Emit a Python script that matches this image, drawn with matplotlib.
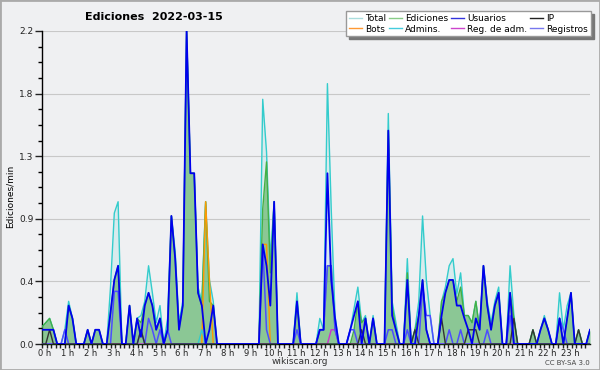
import matplotlib
matplotlib.use('Agg')
import matplotlib.pyplot as plt
import matplotlib.transforms as mtransforms
from matplotlib.lines import Line2D
from matplotlib.patches import Rectangle
import numpy as np

# 10-minute steps from 00:00 to 24:00 (145 points), values in edits/min
hours = np.arange(145) / 6.0

total = [0.12, 0.15, 0.18, 0.1, 0, 0,    0.1, 0.3, 0.18, 0, 0, 0,
         0.1, 0, 0.1, 0.1, 0, 0,         0.4, 0.92, 1.0, 0, 0, 0.27,
         0, 0.18, 0.2, 0.3, 0.55, 0.36,  0.15, 0.27, 0, 0.18, 0.9, 0.65,
         0.15, 0.3, 2.2, 1.2, 1.2, 0.4,  0.3, 1.0, 0.45, 0.3, 0, 0,
         0, 0, 0, 0, 0, 0,               0, 0, 0, 0, 1.72, 1.35,
         0.6, 1.0, 0, 0, 0, 0,           0, 0.36, 0, 0, 0, 0,
         0, 0.18, 0.1, 1.83, 0.95, 0.2,  0, 0, 0, 0.1, 0.25, 0.4,
         0.15, 0.2, 0, 0.2, 0, 0,        0, 1.62, 0.3, 0.15, 0, 0,
         0.6, 0, 0.1, 0.3, 0.9, 0.45,    0.2, 0, 0, 0.3, 0.4, 0.55,
         0.6, 0.35, 0.5, 0.2, 0.2, 0.15, 0.3, 0.1, 0.55, 0.3, 0.15, 0.3,
         0.4, 0, 0, 0.55, 0.2, 0,        0, 0, 0, 0.1, 0, 0.1,
         0.2, 0.1, 0, 0, 0.36, 0.1,      0.27, 0.36, 0, 0.1, 0, 0,
         0.1]

ediciones = [0.12, 0.15, 0.18, 0.1, 0, 0,    0, 0.27, 0.18, 0, 0, 0,
             0.1, 0, 0.1, 0.1, 0, 0,         0.22, 0.45, 0.55, 0, 0, 0.27,
             0, 0.18, 0.15, 0.27, 0.36, 0.27, 0.1, 0.18, 0, 0.1, 0.9, 0.6,
             0.1, 0.27, 2.2, 1.2, 1.2, 0.36, 0.27, 1.0, 0.3, 0.27, 0, 0,
             0, 0, 0, 0, 0, 0,               0, 0, 0, 0, 0.95, 1.28,
             0.5, 1.0, 0, 0, 0, 0,           0, 0.3, 0, 0, 0, 0,
             0, 0.1, 0.1, 0.55, 0.55, 0.1,   0, 0, 0, 0, 0.1, 0.3,
             0.15, 0.18, 0, 0.18, 0, 0,      0, 1.5, 0.27, 0.1, 0, 0,
             0.5, 0, 0.1, 0.2, 0.45, 0.1,    0, 0, 0, 0.3, 0.36, 0.45,
             0.45, 0.3, 0.4, 0.2, 0.2, 0.15, 0.3, 0.1, 0.55, 0.27, 0.1, 0.27,
             0.36, 0, 0, 0.36, 0.18, 0,      0, 0, 0, 0.1, 0, 0.1,
             0.18, 0.1, 0, 0, 0.18, 0,       0.18, 0.36, 0, 0.1, 0, 0,
             0.1]

usuarios = [0.1, 0.1, 0.1, 0.1, 0, 0,      0, 0.27, 0.18, 0, 0, 0,
            0.1, 0, 0.1, 0.1, 0, 0,        0.22, 0.45, 0.55, 0, 0, 0.27,
            0, 0.18, 0.05, 0.27, 0.36, 0.27, 0.1, 0.18, 0, 0.1, 0.9, 0.6,
            0.1, 0.27, 2.2, 1.2, 1.2, 0.36, 0.27, 0, 0.1, 0.27, 0, 0,
            0, 0, 0, 0, 0, 0,              0, 0, 0, 0, 0.7, 0.55,
            0.27, 1.0, 0, 0, 0, 0,         0, 0.3, 0, 0, 0, 0,
            0, 0.1, 0.1, 1.2, 0.45, 0.18,  0, 0, 0, 0.1, 0.2, 0.3,
            0, 0.18, 0, 0.18, 0, 0,        0, 1.5, 0.2, 0.1, 0, 0,
            0.45, 0, 0, 0.2, 0.45, 0.1,    0, 0, 0, 0.2, 0.36, 0.45,
            0.45, 0.27, 0.27, 0.18, 0.1, 0, 0.18, 0.1, 0.55, 0.27, 0.1, 0.27,
            0.36, 0, 0, 0.36, 0, 0,        0, 0, 0, 0, 0, 0.1,
            0.18, 0.1, 0, 0, 0.18, 0,      0.18, 0.36, 0, 0, 0, 0,
            0.1]

ip = [0, 0, 0.1, 0, 0, 0,      0, 0, 0, 0, 0, 0,
      0, 0, 0, 0, 0, 0,        0, 0, 0, 0, 0, 0,
      0, 0, 0.1, 0, 0, 0,      0, 0, 0, 0, 0, 0,
      0, 0, 0, 0, 0, 0,        0, 0, 0, 0, 0, 0,
      0, 0, 0, 0, 0, 0,        0, 0, 0, 0, 0, 0,
      0, 0, 0, 0, 0, 0,        0, 0, 0, 0, 0, 0,
      0, 0, 0, 0, 0, 0,        0, 0, 0, 0, 0, 0,
      0.1, 0, 0, 0, 0, 0,      0, 0, 0, 0, 0, 0,
      0, 0, 0.1, 0, 0, 0,      0, 0, 0, 0.18, 0, 0,
      0, 0, 0, 0, 0.1, 0.1,    0.1, 0, 0, 0, 0, 0,
      0, 0, 0, 0, 0.18, 0,     0, 0, 0, 0.1, 0, 0,
      0, 0, 0, 0, 0, 0,        0, 0, 0, 0.1, 0, 0,
      0]

bots = [0] * 42 + [0, 1.0, 0.45, 0] + [0] * 12 + [0.7, 0.7, 0] + [0] * 84

admins = [0] * 41 + [0, 0.1, 0] + [0] * 101

reg_adm = [0] * 75 + [0, 0.1, 0.1, 0] + [0] * 66

registros = [0, 0, 0, 0, 0, 0,        0.1, 0, 0, 0, 0, 0,
             0, 0, 0, 0, 0, 0,        0, 0.37, 0.37, 0, 0, 0,
             0, 0, 0.1, 0, 0.18, 0.1, 0, 0.1, 0, 0.1, 0, 0,
             0, 0, 0, 0, 0, 0,        0, 0, 0, 0, 0, 0,
             0, 0, 0, 0, 0, 0,        0, 0, 0, 0, 0.7, 0.1,
             0, 0, 0, 0, 0, 0,        0, 0.1, 0, 0, 0, 0,
             0, 0.1, 0.1, 0.55, 0.55, 0.1, 0, 0, 0, 0.1, 0.1, 0,
             0, 0, 0, 0, 0, 0,        0, 0.1, 0.1, 0, 0, 0,
             0.1, 0, 0, 0, 0.4, 0.2,  0.2, 0, 0, 0, 0, 0.1,
             0, 0, 0.1, 0, 0, 0,      0, 0, 0, 0.1, 0, 0,
             0, 0, 0, 0.2, 0, 0,      0, 0, 0, 0, 0, 0,
             0, 0, 0, 0, 0.18, 0.1,   0, 0, 0, 0, 0, 0,
             0]

hour_labels = ['%d h' % h for h in range(24)]

bg = '#eff0f2'
fig = plt.figure(figsize=(6, 3.7), dpi=100, facecolor=bg)
ax = fig.add_axes([42/600, 26/370, 548/600, 313/370])
ax.set_facecolor(bg)
ax.set_xlim(0, 24)
ax.set_ylim(0, 2.2)

# areas
ax.fill_between(hours, total, color='#33cccc', alpha=0.12, lw=0, zorder=2)
ax.fill_between(hours, ediciones, color='#4daa4d', alpha=0.55, lw=0, zorder=3)

# lines
ax.plot(hours, total, color='#33cccc', lw=1, zorder=4)
ax.plot(hours, ediciones, color='#44b044', lw=1, zorder=5)
ax.plot(hours, bots, color='#ff9900', lw=1, zorder=6)
ax.plot(hours, admins, color='#33cccc', lw=1, zorder=6)
ax.plot(hours, reg_adm, color='#cc33cc', lw=1, zorder=6)
ax.plot(hours, registros, color='#4d4dff', lw=1.1, zorder=7)
ax.plot(hours, ip, color='#333333', lw=1, zorder=8)
ax.plot(hours, usuarios, color='#0000ee', lw=1.3, zorder=9)

# axes style
for s in ['top', 'right']:
    ax.spines[s].set_visible(False)
ax.spines['left'].set_linewidth(1)
ax.spines['bottom'].set_linewidth(1)
ax.set_yticks(np.arange(6) * 0.44)
ax.set_yticklabels(['%.1f' % v for v in np.arange(6) * 0.44])
ax.set_yticks(np.arange(21) * 0.11, minor=True)
ax.set_xticks(np.arange(24))
ax.set_xticklabels(hour_labels)
ax.set_xticks(np.arange(0, 24, 0.2), minor=True)
ax.tick_params(axis='y', which='major', length=5, width=1, labelsize=6.5, pad=1, colors='#222222')
ax.tick_params(axis='y', which='minor', length=3, width=1)
ax.tick_params(axis='x', which='both', length=3, width=1, labelsize=6, pad=0.5, colors='#222222')
ax.grid(axis='y', which='major', color='#c8c8c8', lw=0.8, zorder=0)
ax.set_axisbelow(True)

offset = mtransforms.ScaledTranslation(3/100, 0, fig.dpi_scale_trans)
for lab in ax.get_xticklabels():
    lab.set_transform(lab.get_transform() + offset)

# legend (column-major order so rows read left to right)
def h(c):
    return Line2D([], [], color=c, lw=1)
handles = [h('#aadddd'), h('#ff9933'), h('#88cc88'), h('#44ccdd'),
           h('#3333dd'), h('#cc44cc'), h('#222222'), h('#7777ee')]
labels = ['Total', 'Bots', 'Ediciones', 'Admins.', 'Usuarios', 'Reg. de adm.', 'IP', 'Registros']
leg = fig.legend(handles, labels, ncol=4, loc='upper right',
                 bbox_to_anchor=(591/600, 1 - 11/370), fontsize=6.5,
                 frameon=True, fancybox=False, shadow={'color': '#777777', 'alpha': 1},
                 handlelength=1.4, handletextpad=0.4, columnspacing=0.3,
                 labelspacing=0.2, borderpad=0.3, borderaxespad=0)
leg.get_frame().set_edgecolor('#999999')
leg.get_frame().set_linewidth(1)

fig.text(85/600, 1 - 17/370, 'Ediciones  2022-03-15', fontsize=8,
         fontweight='bold', va='center', ha='left')
fig.text(10/600, 1 - 196/370, 'Ediciones/min', rotation=90, fontsize=6.5,
         va='center', ha='center')
fig.text(0.5, 1 - 362/370, 'wikiscan.org', ha='center', va='center', fontsize=6.5, color='#333333')
fig.text(590/600, 1 - 363/370, 'CC BY-SA 3.0', ha='right', va='center', fontsize=5, color='#444444')

fig.patches.append(Rectangle((0, 0), 1, 1, transform=fig.transFigure, fill=False,
                             edgecolor='#aaaaaa', lw=2))

fig.savefig('out.png', dpi=100, facecolor=bg)
